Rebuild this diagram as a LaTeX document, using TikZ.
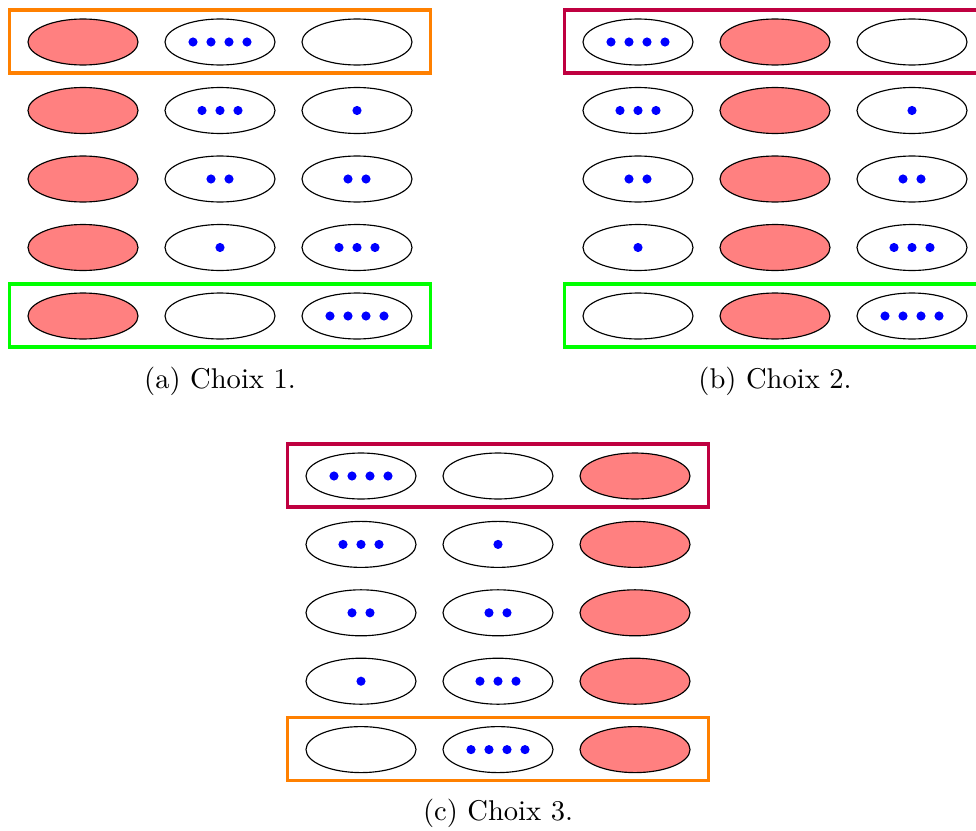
\documentclass[tikz,border=0pt]{standalone}
\usetikzlibrary{calc}
\usetikzlibrary{shapes.geometric}
\tikzset{%
  sac/.style     = {draw, ellipse, minimum width = 38.5pt, minimum height = 16.1pt,
    inner sep = 0pt, fill = white},
  plein/.style   = {sac, fill = red!50},
  pion/.style    = {fill = blue},
  cadre/.style   = {line width = 1.1pt},
  legende/.style = {inner sep = 0pt}
}
% n pions alignes au centre d'un sac
\newcommand{\pions}[2]{%
  \ifnum#2>0\relax
    \foreach \k in {1,...,#2}
      \fill[pion] ($(#1)+({(\k-(#2+1)/2)*18},0)$) circle (1.6pt);
  \fi}

\begin{document}
\begin{tikzpicture}[x=0.35pt, y=-0.35pt]
    \useasboundingbox (0, 0) rectangle (976, 830);

    %choix 1
    \foreach \i in {0,...,4} {
        \pgfmathtruncatemacro{\m}{4-\i}
        \node[plein] (a\i1) at (83, 42+68.5*\i) {};
        \node[sac] (a\i2) at (220, 42+68.5*\i) {};
        \node[sac] (a\i3) at (357, 42+68.5*\i) {};
        \pions{a\i2}{\m}
        \pions{a\i3}{\i}
    }
    \draw[cadre, draw = orange] ($(a01.west)+(-18, -32)$) rectangle ($(a03.east)+(18, 31)$);
    \draw[cadre, draw = green] ($(a41.west)+(-18, -32)$) rectangle ($(a43.east)+(18, 31)$);
    \node[legende] (la) at (220, 381) {(a) Choix 1.};

    %choix 2
    \foreach \i in {0,...,4} {
        \pgfmathtruncatemacro{\m}{4-\i}
        \node[sac] (b\i1) at (638, 42+68.5*\i) {};
        \node[plein] (b\i2) at (775, 42+68.5*\i) {};
        \node[sac] (b\i3) at (912, 42+68.5*\i) {};
        \pions{b\i1}{\m}
        \pions{b\i3}{\i}
    }
    \draw[cadre, draw = purple] ($(b01.west)+(-18, -32)$) rectangle ($(b03.east)+(18, 31)$);
    \draw[cadre, draw = green] ($(b41.west)+(-18, -32)$) rectangle ($(b43.east)+(18, 31)$);
    \node[legende] (lb) at (775, 381) {(b) Choix 2.};

    %choix 3
    \foreach \i in {0,...,4} {
        \pgfmathtruncatemacro{\m}{4-\i}
        \node[sac] (c\i1) at (361, 476+68.4*\i) {};
        \node[sac] (c\i2) at (498, 476+68.4*\i) {};
        \node[plein] (c\i3) at (635, 476+68.4*\i) {};
        \pions{c\i1}{\m}
        \pions{c\i2}{\i}
    }
    \draw[cadre, draw = purple] ($(c01.west)+(-18, -32)$) rectangle ($(c03.east)+(18, 31)$);
    \draw[cadre, draw = orange] ($(c41.west)+(-18, -32)$) rectangle ($(c43.east)+(18, 31)$);
    \node[legende] (lc) at (498, 813) {(c) Choix 3.};
\end{tikzpicture}
\end{document}
